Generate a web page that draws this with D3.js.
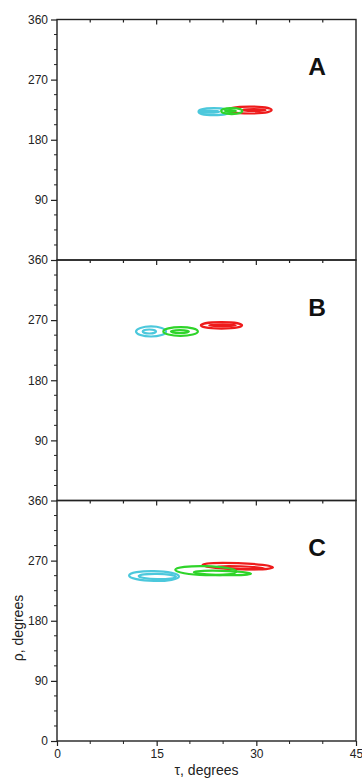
<!DOCTYPE html>
<html lang="en">
  <head>
    <title>tau rho contours</title>
    <script type="text/javascript" src="https://d3js.org/d3.v7.min.js"></script>
    <style>
      body { margin: 0; background: #fff; }
      text { font-family: "Liberation Sans", Arial, sans-serif; }
    </style>
  </head>

  <body>
    <div id="my_dataviz"></div>

    <script>
      // panels and axis ticks
      const panels = ["A", "B", "C"];
      const tauTicks = [0, 15, 30, 45];
      const tauMinor = [5, 10, 20, 25, 35, 40];
      const rhoTicks = [0, 90, 180, 270, 360];
      const rhoMinor = [22.5, 45, 67.5, 112.5, 135, 157.5, 202.5, 225, 247.5, 292.5, 315, 337.5];

      // contour ellipses: centre (tau, rho), half widths, tilt in degrees
      const contoursA = [
        {s: "red",   tau: 29.0, rho: 224.5, dTau: 3.3, dRho: 5.2, tilt: 0},
        {s: "red",   tau: 29.6, rho: 224.5, dTau: 1.8, dRho: 1.5, tilt: 0},
        {s: "cyan",  tau: 23.6, rho: 222,   dTau: 2.3, dRho: 5.2, tilt: 0},
        {s: "cyan",  tau: 22.9, rho: 222,   dTau: 1.5, dRho: 1.5, tilt: 0},
        {s: "green", tau: 26.3, rho: 223,   dTau: 1.6, dRho: 4.5, tilt: 0},
        {s: "green", tau: 26.1, rho: 223,   dTau: 0.8, dRho: 1.2, tilt: 0}
      ];
      const contoursB = [
        {s: "red",   tau: 24.75, rho: 262.2, dTau: 3.1,  dRho: 4.8, tilt: 0},
        {s: "red",   tau: 24.9,  rho: 262.2, dTau: 2.0,  dRho: 1.5, tilt: 0},
        {s: "cyan",  tau: 14.15, rho: 253,   dTau: 2.26, dRho: 7.5, tilt: 0},
        {s: "cyan",  tau: 13.9,  rho: 253,   dTau: 1.0,  dRho: 3.0, tilt: 0},
        {s: "green", tau: 18.6,  rho: 253,   dTau: 2.6,  dRho: 6.5, tilt: 0},
        {s: "green", tau: 18.5,  rho: 253,   dTau: 1.35, dRho: 2.2, tilt: 0}
      ];
      const contoursC = [
        {s: "red",   tau: 27.2, rho: 261.7, dTau: 5.3,  dRho: 4.5, tilt: 2},
        {s: "red",   tau: 27.6, rho: 259.5, dTau: 3.6,  dRho: 2.0, tilt: 2},
        {s: "cyan",  tau: 14.6, rho: 247,   dTau: 3.75, dRho: 7.4, tilt: 1},
        {s: "cyan",  tau: 15.1, rho: 246.3, dTau: 2.8,  dRho: 3.9, tilt: 1},
        {s: "green", tau: 22.4, rho: 255,   dTau: 4.6,  dRho: 6.8, tilt: 1.5},
        {s: "green", tau: 24.9, rho: 251.6, dTau: 4.3,  dRho: 3.2, tilt: 1.5}
      ];
      const contours = [contoursA, contoursB, contoursC];

      const colors = {red: "#ee1b1b", cyan: "#4cc8dc", green: "#2fd42a"};

      // layout
      const W = 362, H = 781;
      const plotLeft = 57, plotRight = 356, plotTop = 19.5, panelH = 240.5;

      const svg = d3.select("#my_dataviz")
        .append("svg")
          .attr("width", W)
          .attr("height", H);

      const x = d3.scaleLinear().domain([0, 45]).range([plotLeft, plotRight]);

      panels.forEach(function(name, i) {
        const y0 = plotTop + i * panelH;
        const y = d3.scaleLinear().domain([0, 360]).range([y0 + panelH, y0]);
        const g = svg.append("g");

        // contours
        g.selectAll("ellipse")
          .data(contours[i])
          .enter().append("ellipse")
            .attr("cx", d => x(d.tau))
            .attr("cy", d => y(d.rho))
            .attr("rx", d => x(d.dTau) - x(0))
            .attr("ry", d => y(0) - y(d.dRho))
            .attr("transform", d => "rotate(" + d.tilt + "," + x(d.tau) + "," + y(d.rho) + ")")
            .attr("fill", "none")
            .attr("stroke", d => colors[d.s])
            .attr("stroke-width", 2.2);

        // left axis; the 0 of upper panels is covered by the 360 of the panel below
        const yAxis = g.append("g")
          .attr("transform", "translate(" + plotLeft + ",0)")
          .call(d3.axisLeft(y)
            .tickValues(i === panels.length - 1 ? rhoTicks : rhoTicks.filter(v => v !== 0))
            .tickSize(6)
            .tickSizeOuter(0)
            .tickPadding(3));
        yAxis.select(".domain").remove();
        yAxis.selectAll("text").attr("font-size", 12).attr("fill", "#222").attr("font-family", "Liberation Sans, Arial, sans-serif");
        yAxis.selectAll("line").attr("stroke", "#222").attr("stroke-width", 1.2);

        g.append("g")
          .selectAll("line")
          .data(rhoMinor)
          .enter().append("line")
            .attr("x1", plotLeft - 3)
            .attr("x2", plotLeft)
            .attr("y1", d => y(d))
            .attr("y2", d => y(d))
            .attr("stroke", "#222")
            .attr("stroke-width", 1);

        // top ticks of each panel point inward
        g.append("g")
          .selectAll("line")
          .data(tauTicks.concat(tauMinor).filter(v => v > 0 && v < 45))
          .enter().append("line")
            .attr("x1", d => x(d))
            .attr("x2", d => x(d))
            .attr("y1", y0)
            .attr("y2", d => y0 + (tauTicks.includes(d) ? 5 : 3))
            .attr("stroke", "#222")
            .attr("stroke-width", 1.2);

        // frame
        g.append("rect")
          .attr("x", plotLeft)
          .attr("y", y0)
          .attr("width", plotRight - plotLeft)
          .attr("height", panelH)
          .attr("fill", "none")
          .attr("stroke", "#222")
          .attr("stroke-width", 1.4);

        // panel letter
        g.append("text")
          .attr("x", 317)
          .attr("y", y0 + 55.5)
          .attr("text-anchor", "middle")
          .attr("font-size", 24.5)
          .attr("font-weight", "bold")
          .attr("fill", "#111")
          .text(name);
      });

      // bottom tau axis
      const yBottom = plotTop + panels.length * panelH;
      const xAxis = svg.append("g")
        .attr("transform", "translate(0," + yBottom + ")")
        .call(d3.axisBottom(x)
          .tickValues(tauTicks)
          .tickFormat(d3.format("d"))
          .tickSize(5)
          .tickSizeOuter(0)
          .tickPadding(3));
      xAxis.select(".domain").remove();
      xAxis.selectAll("text").attr("font-size", 12).attr("fill", "#222").attr("font-family", "Liberation Sans, Arial, sans-serif");
      xAxis.selectAll("line").attr("stroke", "#222").attr("stroke-width", 1.2);

      svg.append("g")
        .selectAll("line")
        .data(tauMinor)
        .enter().append("line")
          .attr("x1", d => x(d))
          .attr("x2", d => x(d))
          .attr("y1", yBottom)
          .attr("y2", yBottom + 3)
          .attr("stroke", "#222")
          .attr("stroke-width", 1);

      // axis titles
      svg.append("text")
        .attr("x", (plotLeft + plotRight) / 2)
        .attr("y", 775)
        .attr("text-anchor", "middle")
        .attr("font-size", 14)
        .attr("fill", "#222")
        .text("τ, degrees");

      svg.append("text")
        .attr("transform", "translate(23,628) rotate(-90)")
        .attr("text-anchor", "middle")
        .attr("font-size", 14)
        .attr("fill", "#222")
        .text("ρ, degrees");
    </script>

  </body>
</html>
